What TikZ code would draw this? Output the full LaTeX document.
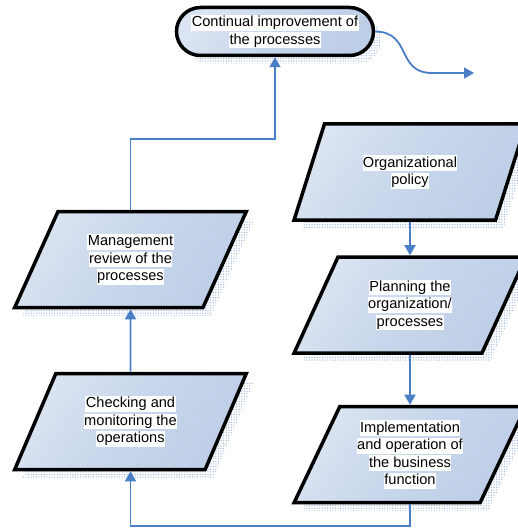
\documentclass[tikz,border=0pt]{standalone}
\usepackage{fontspec}
\setmainfont{Liberation Sans}
\usetikzlibrary{shapes.geometric,shapes.misc,shadows,patterns.meta,arrows.meta}
\definecolor{fillA}{HTML}{DAE4F2}
\definecolor{fillM}{HTML}{C7D6EB}
\definecolor{fillB}{HTML}{BDCEE7}
\definecolor{conn}{HTML}{4A7EC6}
\definecolor{shad}{HTML}{9FB6DD}
\newcommand\hl[1]{{\setlength\fboxsep{0.4pt}\colorbox{white}{\vrule height 11.4pt depth 3.7pt width 0pt #1}}}
\tikzset{
  boxshade/.style={top color=fillA, bottom color=fillB, middle color=fillM, shading angle=55},
  boxshadow/.style={preaction={draw=none, pattern={Dots[distance=2.6pt, radius=0.7pt]}, pattern color=shad,
      transform canvas={shift={(8pt,-8pt)}}}},
  para/.style={trapezium, trapezium left angle=63.2, trapezium right angle=116.8,
    trapezium stretches=true, minimum width=232pt, minimum height=96pt, inner sep=0pt,
    draw=black, line width=3.5pt, boxshade, boxshadow, align=center,
    font=\fontsize{14.6}{17.5}\selectfont},
  term/.style={rounded rectangle, minimum width=197pt, minimum height=48pt, inner sep=0pt,
    draw=black, line width=3.5pt, boxshade, boxshadow, align=center,
    font=\fontsize{14.6}{17.5}\selectfont},
  conn/.style={draw=conn, line width=1.8pt, -{Triangle[length=10pt,width=11pt]}}
}
\begin{document}
\begin{tikzpicture}[x=1pt,y=-1pt]
\useasboundingbox (0,0) rectangle (518,529);
\node[term] (improve) at (275,31.5) {\hl{Continual improvement of}\\\hl{the processes}};
\node[para] (policy) at (410,172) {\hl{Organizational}\\\hl{policy}};
\node[para] (plan) at (410,305) {\hl{Planning the}\\\hl{organization/}\\\hl{processes}};
\node[para] (impl) at (410,454.5) {\hl{Implementation}\\\hl{and operation of}\\\hl{the business}\\\hl{function}};
\node[para] (mgmt) at (130.5,259.5) {\hl{Management}\\\hl{review of the}\\\hl{processes}};
\node[para] (check) at (130.5,421.5) {\hl{Checking and}\\\hl{monitoring the}\\\hl{operations}};
\coordinate (out) at (474,73);
\draw[conn] (policy.south) -- (plan.north);
\draw[conn] (plan.south) -- (impl.north);
\draw[conn] (impl.south) -- ++(0,22) -| (check.south);
\draw[conn] (check.north) -- (mgmt.south);
\draw[conn] (mgmt.north) |- (improve.south |- 0,139) -- (improve.south);
\draw[conn] (improve.east) .. controls (412,32) and (396,73) .. (432,73) -- (out);
\end{tikzpicture}
\end{document}
